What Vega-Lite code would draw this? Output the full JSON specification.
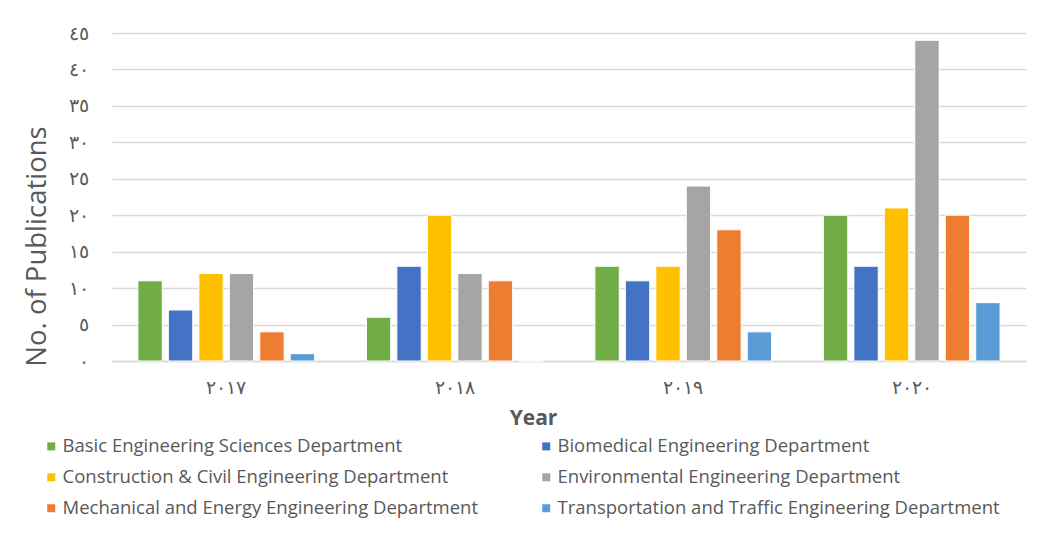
{
  "$schema": "https://vega.github.io/schema/vega-lite/v6.json",
  "autosize": {"type": "none"},
  "width": 914,
  "height": 328,
  "padding": {"left": 112, "top": 33, "right": 18, "bottom": 173},
  "background": "white",
  "config": {
    "font": "Open Sans",
    "view": {"stroke": null}
  },
  "data": {
    "values": [
      {"Year": "2017", "Department": "Basic Engineering Sciences Department", "Publications": 11},
      {"Year": "2017", "Department": "Biomedical Engineering Department", "Publications": 7},
      {"Year": "2017", "Department": "Construction & Civil Engineering Department", "Publications": 12},
      {"Year": "2017", "Department": "Environmental Engineering Department", "Publications": 12},
      {"Year": "2017", "Department": "Mechanical and Energy Engineering Department", "Publications": 4},
      {"Year": "2017", "Department": "Transportation and Traffic Engineering Department", "Publications": 1},
      {"Year": "2018", "Department": "Basic Engineering Sciences Department", "Publications": 6},
      {"Year": "2018", "Department": "Biomedical Engineering Department", "Publications": 13},
      {"Year": "2018", "Department": "Construction & Civil Engineering Department", "Publications": 20},
      {"Year": "2018", "Department": "Environmental Engineering Department", "Publications": 12},
      {"Year": "2018", "Department": "Mechanical and Energy Engineering Department", "Publications": 11},
      {"Year": "2018", "Department": "Transportation and Traffic Engineering Department", "Publications": 0},
      {"Year": "2019", "Department": "Basic Engineering Sciences Department", "Publications": 13},
      {"Year": "2019", "Department": "Biomedical Engineering Department", "Publications": 11},
      {"Year": "2019", "Department": "Construction & Civil Engineering Department", "Publications": 13},
      {"Year": "2019", "Department": "Environmental Engineering Department", "Publications": 24},
      {"Year": "2019", "Department": "Mechanical and Energy Engineering Department", "Publications": 18},
      {"Year": "2019", "Department": "Transportation and Traffic Engineering Department", "Publications": 4},
      {"Year": "2020", "Department": "Basic Engineering Sciences Department", "Publications": 20},
      {"Year": "2020", "Department": "Biomedical Engineering Department", "Publications": 13},
      {"Year": "2020", "Department": "Construction & Civil Engineering Department", "Publications": 21},
      {"Year": "2020", "Department": "Environmental Engineering Department", "Publications": 44},
      {"Year": "2020", "Department": "Mechanical and Energy Engineering Department", "Publications": 20},
      {"Year": "2020", "Department": "Transportation and Traffic Engineering Department", "Publications": 8}
    ]
  },
  "mark": {"type": "bar", "stroke": "white", "strokeWidth": 1},
  "encoding": {
    "x": {
      "field": "Year",
      "type": "nominal",
      "scale": {"paddingInner": 0.2, "paddingOuter": 0.1},
      "axis": {
        "title": "Year",
        "titleFontSize": 21,
        "titleFontWeight": "bold",
        "titleColor": "#595959",
        "titleX": 421,
        "titleY": 63,
        "titleAnchor": null,
        "titleAlign": "center",
        "titleBaseline": "alphabetic",
        "labelAngle": 0,
        "labelFontSize": 19,
        "labelColor": "#595959",
        "labelPadding": 17,
        "ticks": false,
        "domainColor": "#d9d9d9",
        "domainWidth": 1.5,
        "labelExpr": "['٠','١','٢','٣','٤','٥','٦','٧','٨','٩'][+substring(datum.label,0,1)] + ['٠','١','٢','٣','٤','٥','٦','٧','٨','٩'][+substring(datum.label,1,2)] + ['٠','١','٢','٣','٤','٥','٦','٧','٨','٩'][+substring(datum.label,2,3)] + ['٠','١','٢','٣','٤','٥','٦','٧','٨','٩'][+substring(datum.label,3,4)]"
      }
    },
    "xOffset": {
      "field": "Department",
      "type": "nominal",
      "scale": {"paddingInner": 0.2, "paddingOuter": 0.1}
    },
    "y": {
      "field": "Publications",
      "type": "quantitative",
      "scale": {"domain": [0, 45], "nice": false},
      "axis": {
        "title": "No. of Publications",
        "titleFontSize": 27.5,
        "titleFontWeight": "normal",
        "titleColor": "#595959",
        "titleX": -67,
        "titleY": 213,
        "titleAngle": 270,
        "titleAlign": "center",
        "titleBaseline": "alphabetic",
        "values": [0, 5, 10, 15, 20, 25, 30, 35, 40, 45],
        "labelFontSize": 19,
        "labelColor": "#595959",
        "labelPadding": 24,
        "ticks": false,
        "domain": false,
        "gridColor": "#d9d9d9",
        "gridWidth": 1.5,
        "labelExpr": "(datum.value >= 10 ? ['٠','١','٢','٣','٤','٥','٦','٧','٨','٩'][floor(datum.value/10)] : '') + ['٠','١','٢','٣','٤','٥','٦','٧','٨','٩'][datum.value % 10]"
      }
    },
    "color": {
      "field": "Department",
      "type": "nominal",
      "scale": {
        "domain": [
          "Basic Engineering Sciences Department",
          "Biomedical Engineering Department",
          "Construction & Civil Engineering Department",
          "Environmental Engineering Department",
          "Mechanical and Energy Engineering Department",
          "Transportation and Traffic Engineering Department"
        ],
        "range": ["#70AD47", "#4472C4", "#FFC000", "#A5A5A5", "#ED7D31", "#5B9BD5"]
      },
      "legend": {
        "title": null,
        "orient": "none",
        "legendX": -70,
        "legendY": 404,
        "direction": "horizontal",
        "columns": 2,
        "columnPadding": 58,
        "rowPadding": 12,
        "symbolType": "square",
        "symbolSize": 64,
        "symbolStrokeWidth": 0,
        "labelFontSize": 18.5,
        "labelColor": "#595959",
        "labelOffset": 2,
        "labelLimit": 600
      }
    }
  }
}
